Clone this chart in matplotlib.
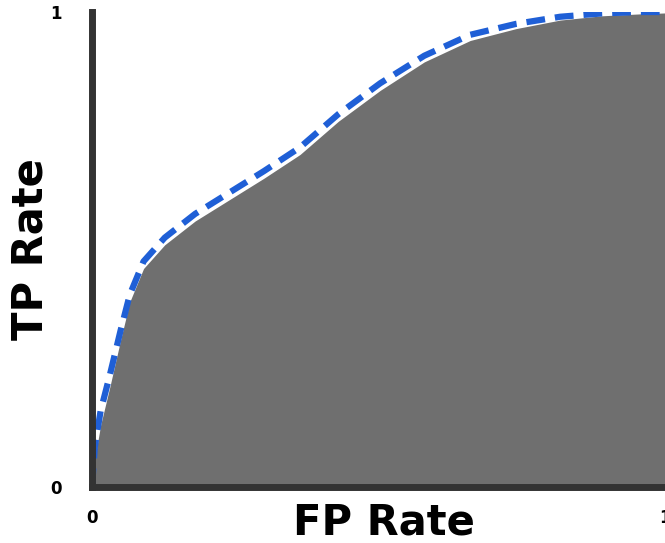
import matplotlib
matplotlib.use("Agg")
import matplotlib.pyplot as plt

fpr = [0.0, 0.005, 0.015, 0.031, 0.05, 0.066, 0.09, 0.127, 0.18, 0.24, 0.30, 0.363, 0.43, 0.503, 0.58, 0.66, 0.74, 0.817, 0.89, 0.956, 1.0]
tpr = [0.0, 0.06, 0.13, 0.21, 0.31, 0.39, 0.46, 0.51, 0.56, 0.605, 0.65, 0.70, 0.77, 0.835, 0.895, 0.94, 0.965, 0.983, 0.992, 0.996, 0.998]
tpr_line = [0.0, 0.085, 0.16, 0.235, 0.33, 0.405, 0.475, 0.525, 0.575, 0.62, 0.665, 0.715, 0.785, 0.85, 0.908, 0.952, 0.975, 0.99, 0.997, 1.0, 1.0]

fig = plt.figure(figsize=(6.65, 5.43), dpi=100)
ax = fig.add_axes([92/665, 56/543, 573/665, 475/543])
ax.fill_between(fpr, 0, tpr, color="#6f6f6f", linewidth=0)
ax.plot(fpr, tpr_line, color="#1f5fd6", lw=4.5, dashes=(3, 1.6))
ax.set_xlim(0, 1)
ax.set_ylim(0, 1)
for s in ["top", "right"]:
    ax.spines[s].set_visible(False)
for s in ["left", "bottom"]:
    ax.spines[s].set_linewidth(5)
    ax.spines[s].set_color("#333333")
ax.set_xticks([0, 1])
ax.set_yticks([0, 1])
ax.set_xticklabels(["0", "1"], fontsize=12, fontweight="bold")
ax.set_yticklabels(["0", "1"], fontsize=12, fontweight="bold")
ax.tick_params(axis="x", length=0, pad=16)
ax.tick_params(axis="y", length=0, pad=22)
ax.set_xlabel("FP Rate", fontsize=30, fontweight="bold")
ax.set_ylabel("TP Rate", fontsize=30, fontweight="bold")
ax.xaxis.set_label_coords(0.51, -0.03)
ax.yaxis.set_label_coords(-0.07, 0.5)
fig.savefig("out.png", dpi=100)
